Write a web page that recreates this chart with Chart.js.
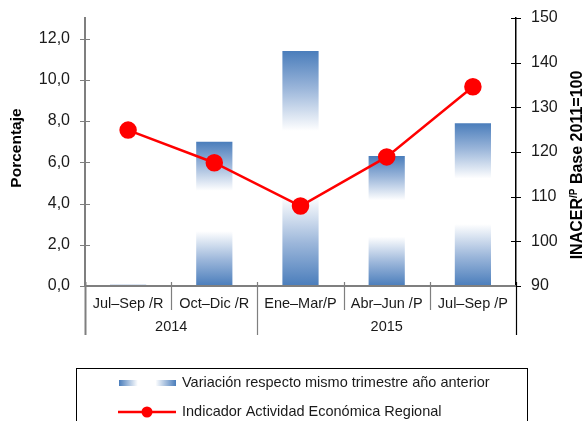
<!DOCTYPE html>
<html><head><meta charset="utf-8">
<script src="https://cdn.jsdelivr.net/npm/chart.js@4.4.0/dist/chart.umd.min.js"></script>
<style>html,body{margin:0;padding:0;background:#fff;}#wrap{width:587px;height:421px;position:relative;}</style>
</head><body><div id="wrap"><canvas id="c" width="587" height="421"></canvas></div>
<script>
const categories = ['Jul–Sep /R', 'Oct–Dic /R', 'Ene–Mar/P', 'Abr–Jun /P', 'Jul–Sep /P'];
const years = ['2014', '2015'];
const yearSpans = [2, 3];
const variacion = [0.1, 7.0, 11.4, 6.3, 7.9];
const inacer = [124.9, 117.6, 107.9, 118.9, 134.6];
const leftTicks = [0, 2, 4, 6, 8, 10, 12];
const rightTicks = [90, 100, 110, 120, 130, 140, 150];
const seriesNames = ['Variación respecto mismo trimestre año anterior', 'Indicador Actividad Económica Regional'];
const leftTitle = 'Porcentaje';
const rightTitle = ['INACER', '/P', ' Base 2011=100'];

const FONT = "'Liberation Sans', Arial, sans-serif";
const BLUE = '#4a7dbb';
const RED = '#ff0000';
const GRAY = '#7f7f7f';

function barGradient(ctx) {
  const chart = ctx.chart;
  if (!chart.chartArea || ctx.type !== 'data') return BLUE;
  const y = chart.scales.y;
  const top = y.getPixelForValue(ctx.raw);
  const base = y.getPixelForValue(0);
  if (Math.abs(base - top) < 2) return BLUE;
  const g = chart.ctx.createLinearGradient(0, top, 0, base);
  g.addColorStop(0, BLUE);
  g.addColorStop(0.16, '#9bb6da');
  g.addColorStop(0.34, '#ffffff');
  g.addColorStop(0.62, '#ffffff');
  g.addColorStop(0.82, '#9bb6da');
  g.addColorStop(1, BLUE);
  return g;
}

function noPad(s) { s.paddingTop = 0; s.paddingBottom = 0; s.paddingLeft = 0; s.paddingRight = 0; }

const decor = {
  id: 'decor',
  afterDraw(chart) {
    const c = chart.ctx;
    const y = chart.scales.y, y1 = chart.scales.y1;
    const L = chart.chartArea.left, R = chart.chartArea.right, B = chart.chartArea.bottom;
    const n = categories.length;
    const bw = (R - L) / n;
    c.save();
    c.strokeStyle = GRAY; c.lineWidth = 1;
    leftTicks.forEach(v => {
      const p = Math.round(y.getPixelForValue(v)) + 0.5;
      c.beginPath(); c.moveTo(L - 5, p); c.lineTo(L + 5, p); c.stroke();
    });
    c.strokeStyle = '#000';
    rightTicks.forEach(v => {
      const p = Math.round(y1.getPixelForValue(v)) + 0.5;
      c.beginPath(); c.moveTo(R - 5, p); c.lineTo(R + 5, p); c.stroke();
    });
    c.strokeStyle = GRAY; c.lineWidth = 2;
    c.beginPath(); c.moveTo(L, B); c.lineTo(R, B); c.stroke();
    const groupEdges = [0];
    let acc = 0; yearSpans.forEach(s => { acc += s; groupEdges.push(acc); });
    for (let i = 0; i <= n; i++) {
      const bx = Math.round(L + i * bw) + 0.5;
      const isGroup = groupEdges.includes(i);
      c.strokeStyle = (i === n) ? '#000' : GRAY;
      c.lineWidth = (i === 0) ? 2 : 1.2;
      c.beginPath(); c.moveTo(bx, B - 4); c.lineTo(bx, isGroup ? 335 : 310); c.stroke();
    }
    c.fillStyle = '#1a1a1a';
    c.font = '14.5px ' + FONT;
    c.textAlign = 'center'; c.textBaseline = 'middle';
    let start = 0;
    years.forEach((yr, k) => {
      const cx = L + (start + yearSpans[k] / 2) * bw;
      c.fillText(yr, cx, 327);
      start += yearSpans[k];
    });
    c.font = 'bold 15.5px ' + FONT;
    c.save();
    c.translate(17, 148); c.rotate(-Math.PI / 2);
    c.fillStyle = '#000';
    c.fillText(leftTitle, 0, 0);
    c.restore();
    c.save();
    c.translate(578, 165); c.rotate(-Math.PI / 2);
    c.fillStyle = '#000'; c.textAlign = 'left';
    const f1 = 'bold 16px ' + FONT, f2 = 'bold 10px ' + FONT;
    c.font = f1; const w1 = c.measureText(rightTitle[0]).width;
    c.font = f2; const w2 = c.measureText(rightTitle[1]).width;
    c.font = f1; const w3 = c.measureText(rightTitle[2]).width;
    let sx = -(w1 + w2 + w3) / 2;
    c.font = f1; c.fillText(rightTitle[0], sx, 0); sx += w1;
    c.font = f2; c.fillText(rightTitle[1], sx, -4); sx += w2;
    c.font = f1; c.fillText(rightTitle[2], sx, 0);
    c.restore();
    c.strokeStyle = '#000'; c.lineWidth = 1;
    c.strokeRect(76.5, 368.5, 451, 60);
    const lg = c.createLinearGradient(119, 0, 176, 0);
    lg.addColorStop(0, BLUE); lg.addColorStop(0.33, '#ffffff');
    lg.addColorStop(0.64, '#ffffff'); lg.addColorStop(1, BLUE);
    c.fillStyle = lg;
    c.fillRect(119, 380, 57, 6);
    c.strokeStyle = RED; c.lineWidth = 2.5;
    c.beginPath(); c.moveTo(118, 412); c.lineTo(176, 412); c.stroke();
    c.fillStyle = RED;
    c.beginPath(); c.arc(147, 412, 5.5, 0, Math.PI * 2); c.fill();
    c.fillStyle = '#1a1a1a';
    c.font = '14.5px ' + FONT; c.textAlign = 'left'; c.textBaseline = 'middle';
    c.fillText(seriesNames[0], 182, 383);
    c.fillText(seriesNames[1], 182, 412);
    c.restore();
  }
};

new Chart(document.getElementById('c'), {
  data: {
    labels: categories,
    datasets: [
      {
        type: 'line', label: seriesNames[1], data: inacer, yAxisID: 'y1', order: 0,
        borderColor: RED, backgroundColor: RED, borderWidth: 2.5,
        pointRadius: 7.5, pointBackgroundColor: RED, pointBorderColor: RED, tension: 0
      },
      {
        type: 'bar', label: seriesNames[0], data: variacion, yAxisID: 'y', order: 1,
        backgroundColor: barGradient, borderWidth: 0,
        barPercentage: 0.42, categoryPercentage: 1
      }
    ]
  },
  options: {
    responsive: false, devicePixelRatio: 1, animation: false,
    layout: { padding: { top: 18, left: 0, right: 0, bottom: 0 } },
    plugins: { legend: { display: false }, tooltip: { enabled: false } },
    scales: {
      x: {
        type: 'category', offset: true,
        grid: { display: false, drawTicks: false }, border: { display: false },
        ticks: { font: { family: FONT, size: 14.5 }, color: '#1a1a1a', padding: 9, maxRotation: 0, autoSkip: false },
        afterFit(s) { s.height = 135; noPad(s); }
      },
      y: {
        position: 'left', min: 0, max: 13,
        afterBuildTicks(s) { s.ticks = leftTicks.map(v => ({ value: v })); },
        ticks: { font: { family: FONT, size: 16 }, color: '#1a1a1a', padding: 15,
          callback: v => v.toFixed(1).replace('.', ',') },
        grid: { drawOnChartArea: false, drawTicks: false },
        border: { color: GRAY, width: 2 },
        afterFit(s) { s.width = 85; noPad(s); }
      },
      y1: {
        position: 'right', min: 90, max: 150,
        afterBuildTicks(s) { s.ticks = rightTicks.map(v => ({ value: v })); },
        ticks: { font: { family: FONT, size: 16 }, color: '#1a1a1a', padding: 15 },
        grid: { drawOnChartArea: false, drawTicks: false },
        border: { color: '#000', width: 1.5 },
        afterFit(s) { s.width = 71; noPad(s); }
      }
    }
  },
  plugins: [decor]
});
</script></body></html>
